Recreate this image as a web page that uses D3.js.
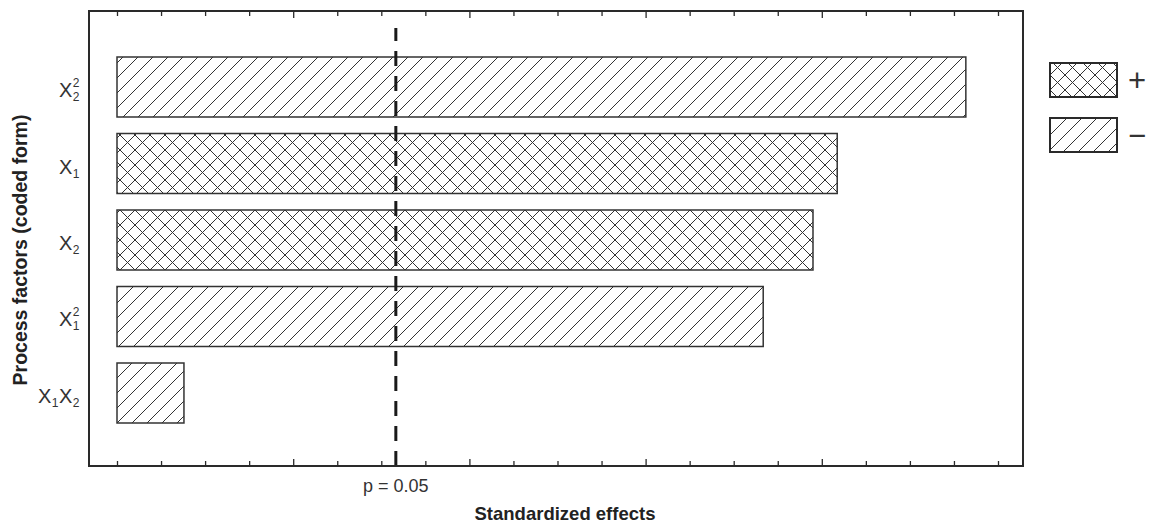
<!DOCTYPE html>
<html>
<head>
<meta charset="utf-8">
<script src="https://cdn.jsdelivr.net/npm/d3@7/dist/d3.min.js"></script>
<style>
  html, body { margin: 0; padding: 0; background: #fff; }
  svg { display: block; font-family: "Liberation Sans", Arial, sans-serif; }
</style>
</head>
<body>
<svg id="chart" width="1149" height="526"></svg>
<script>
// Factor labels: base letter with optional subscript / superscript
const factorIds = ["X2sq", "X1", "X2", "X1sq", "X1X2"];
const factorLabels = [
  [{ base: "X", sub: "2", sup: "2" }],
  [{ base: "X", sub: "1" }],
  [{ base: "X", sub: "2" }],
  [{ base: "X", sub: "1", sup: "2" }],
  [{ base: "X", sub: "1" }, { base: "X", sub: "2" }]
];
// Absolute standardized effects and their sign
const effects = [19.27, 16.35, 15.8, 14.67, 1.52];
const signs = ["-", "+", "+", "-", "-"];
// Significance threshold (p = 0.05)
const criticalValue = 6.33;
const criticalLabel = "p = 0.05";
const xDomain = [0, 20];
const xTickValues = d3.range(0, 21, 1);
const xMajorTicks = [4, 8, 12, 16];
const legendSigns = ["+", "-"];
const legendText = ["+", "\u2212"];

const svg = d3.select("#chart");
const frame = { left: 89, right: 1023, top: 11, bottom: 466 };
const ink = "#2a2a2a";

// Hatch patterns
const defs = svg.append("defs");
const hatchStep = 15;
const diag = defs.append("pattern")
  .attr("id", "hatch-neg").attr("patternUnits", "userSpaceOnUse")
  .attr("width", hatchStep).attr("height", hatchStep);
diag.append("rect").attr("width", hatchStep).attr("height", hatchStep).attr("fill", "#fff");
diag.append("path")
  .attr("d", `M0,${hatchStep} L${hatchStep},0 M-2,2 L2,-2 M${hatchStep - 2},${hatchStep + 2} L${hatchStep + 2},${hatchStep - 2}`)
  .attr("stroke", "#333").attr("stroke-width", 1);

const cross = defs.append("pattern")
  .attr("id", "hatch-pos").attr("patternUnits", "userSpaceOnUse")
  .attr("width", hatchStep).attr("height", hatchStep);
cross.append("rect").attr("width", hatchStep).attr("height", hatchStep).attr("fill", "#fff");
cross.append("path")
  .attr("d", `M0,${hatchStep} L${hatchStep},0 M-2,2 L2,-2 M${hatchStep - 2},${hatchStep + 2} L${hatchStep + 2},${hatchStep - 2}
              M0,0 L${hatchStep},${hatchStep} M-2,${hatchStep - 2} L2,${hatchStep + 2} M${hatchStep - 2},-2 L${hatchStep + 2},2`)
  .attr("stroke", "#333").attr("stroke-width", 1);

const fillFor = s => s === "+" ? "url(#hatch-pos)" : "url(#hatch-neg)";

// Scales
const x = d3.scaleLinear().domain(xDomain).range([117, 998]);
const y = d3.scaleBand().domain(factorIds).range([40.5, 439.5])
  .paddingInner(0.2157).paddingOuter(0.2157);

// Bars
const rows = factorIds.map((id, i) => ({ id, value: effects[i], sign: signs[i], label: factorLabels[i] }));
svg.append("g").selectAll("rect").data(rows).join("rect")
  .attr("x", x(0))
  .attr("y", d => y(d.id))
  .attr("width", d => x(d.value) - x(0))
  .attr("height", y.bandwidth())
  .attr("fill", d => fillFor(d.sign))
  .attr("stroke", "#333").attr("stroke-width", 1.5);

// Significance line
svg.append("line")
  .attr("x1", x(criticalValue)).attr("x2", x(criticalValue))
  .attr("y1", frame.bottom).attr("y2", 28)
  .attr("stroke", "#1a1a1a").attr("stroke-width", 3)
  .attr("stroke-dasharray", "15,10");

// Frame
svg.append("rect")
  .attr("x", frame.left).attr("y", frame.top)
  .attr("width", frame.right - frame.left).attr("height", frame.bottom - frame.top)
  .attr("fill", "none").attr("stroke", ink).attr("stroke-width", 2);

// Inward ticks on bottom and top edges
function tickAxis(gen, yPos, values, size) {
  const g = svg.append("g").attr("transform", `translate(0,${yPos})`)
    .call(gen(x).tickValues(values).tickSize(size).tickFormat(""));
  g.select(".domain").remove();
  g.selectAll("line").attr("stroke", ink).attr("stroke-width", 1.3);
}
const minorTicks = xTickValues.filter(v => !xMajorTicks.includes(v));
tickAxis(d3.axisBottom, frame.bottom, minorTicks, -5);
tickAxis(d3.axisBottom, frame.bottom, xMajorTicks, -7);
tickAxis(d3.axisTop, frame.top, minorTicks, -5);
tickAxis(d3.axisTop, frame.top, xMajorTicks, -7);

// Factor labels with subscripts and superscripts
const labelRight = 80;
rows.forEach(d => {
  const g = svg.append("g");
  let cx = 0;
  d.label.forEach(part => {
    const t = g.append("text").attr("x", cx).attr("y", 0)
      .attr("font-size", 20).attr("fill", "#333").text(part.base);
    cx += t.node().getComputedTextLength() + 0.5;
    let w = 0;
    if (part.sub) {
      const s = g.append("text").attr("x", cx).attr("y", 4)
        .attr("font-size", 12).attr("fill", "#333").text(part.sub);
      w = Math.max(w, s.node().getComputedTextLength());
    }
    if (part.sup) {
      const s = g.append("text").attr("x", cx).attr("y", -10)
        .attr("font-size", 12).attr("fill", "#333").text(part.sup);
      w = Math.max(w, s.node().getComputedTextLength());
    }
    cx += w + 0.5;
  });
  const cy = y(d.id) + y.bandwidth() / 2;
  g.attr("transform", `translate(${labelRight - cx},${cy + 10})`);
});

// Threshold label
svg.append("text")
  .attr("x", x(criticalValue)).attr("y", 492)
  .attr("text-anchor", "middle").attr("font-size", 18).attr("fill", "#333")
  .text(criticalLabel);

// Axis titles
svg.append("text")
  .attr("x", 565).attr("y", 520)
  .attr("text-anchor", "middle").attr("font-size", 18.5).attr("font-weight", "bold").attr("fill", "#222")
  .text("Standardized effects");
svg.append("text")
  .attr("transform", "translate(27,250) rotate(-90)")
  .attr("text-anchor", "middle").attr("font-size", 19.5).attr("font-weight", "bold").attr("fill", "#222")
  .text("Process factors (coded form)");

// Legend
const legendY = d3.scalePoint().domain(legendSigns).range([63, 118]);
const lg = svg.append("g");
lg.selectAll("rect").data(legendSigns).join("rect")
  .attr("x", 1050).attr("y", d => legendY(d))
  .attr("width", 67).attr("height", 34)
  .attr("fill", d => fillFor(d))
  .attr("stroke", ink).attr("stroke-width", 2);
lg.selectAll("text").data(legendSigns).join("text")
  .attr("x", 1128).attr("y", d => legendY(d) + 28)
  .attr("font-size", 31).attr("fill", "#333")
  .text((d, i) => legendText[i]);
</script>
</body>
</html>
